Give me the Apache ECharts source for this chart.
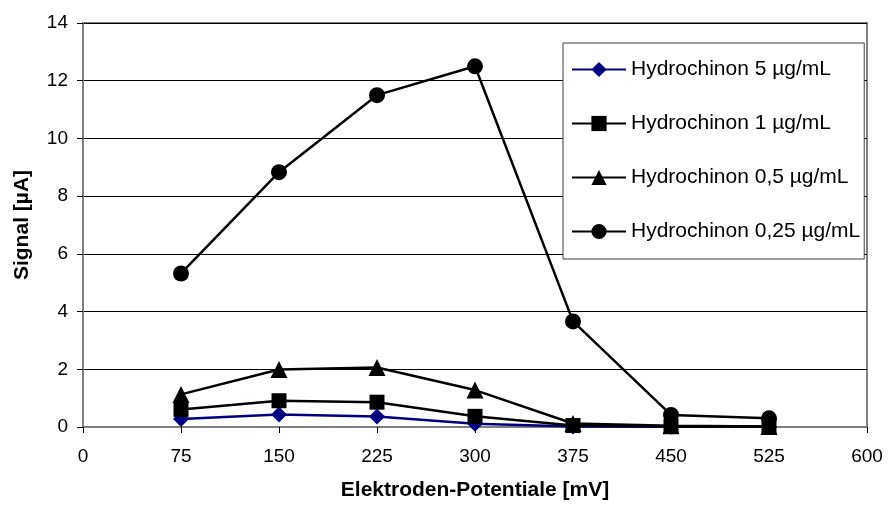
<!DOCTYPE html>
<html>
<head>
<meta charset="utf-8">
<script src="https://cdn.jsdelivr.net/npm/echarts@6/dist/echarts.min.js"></script>
<style>html,body{margin:0;padding:0;background:#fff}#c{width:888px;height:506px}</style>
</head>
<body>
<div id="c"></div>
<script>
const potentials = [75, 150, 225, 300, 375, 450, 525];
const seriesNames = ['Hydrochinon 5 µg/mL', 'Hydrochinon 1 µg/mL', 'Hydrochinon 0,5 µg/mL', 'Hydrochinon 0,25 µg/mL'];
const conc5 = [0.28, 0.43, 0.36, 0.11, 0.02, 0.01, 0.01];
const conc1 = [0.61, 0.91, 0.86, 0.37, 0.05, 0.02, 0.01];
const conc05 = [1.13, 1.99, 2.06, 1.28, 0.12, 0.04, 0.02];
const conc025 = [5.32, 8.83, 11.5, 12.5, 3.66, 0.42, 0.3];
const xTicks = [0, 75, 150, 225, 300, 375, 450, 525, 600];
const yTicks = [0, 2, 4, 6, 8, 10, 12, 14];

const font = 'Liberation Sans, Arial, sans-serif';
function mk(name, vals, symbol, color, size) {
  return {
    name: name, type: 'line', data: potentials.map((p, i) => [p, vals[i]]),
    symbol: symbol, symbolSize: size, showSymbol: true,
    lineStyle: { color: color, width: 2.5 }, itemStyle: { color: color },
    emphasis: { disabled: true }, animation: false
  };
}
const chart = echarts.init(document.getElementById('c'), null, { renderer: 'canvas' });
chart.setOption({
  animation: false,
  backgroundColor: '#fff',
  grid: { left: 83, right: 21, top: 23, bottom: 75, show: true, borderColor: '#808080', borderWidth: 2, backgroundColor: 'transparent' },
  xAxis: {
    type: 'value', min: xTicks[0], max: xTicks[xTicks.length - 1], interval: 75,
    name: 'Elektroden-Potentiale [mV]', nameLocation: 'middle', nameGap: 53,
    nameTextStyle: { fontFamily: font, fontSize: 21, fontWeight: 'bold', color: '#000' },
    axisLine: { show: true, lineStyle: { color: '#808080', width: 2 } },
    axisTick: { show: true, inside: false, length: 6, lineStyle: { color: '#000' } },
    axisLabel: { fontFamily: font, fontSize: 19, color: '#000', margin: 20 },
    splitLine: { show: false }
  },
  yAxis: {
    type: 'value', min: yTicks[0], max: yTicks[yTicks.length - 1], interval: 2,
    name: 'Signal [µA]', nameLocation: 'middle', nameGap: 50,
    nameTextStyle: { fontFamily: font, fontSize: 21, fontWeight: 'bold', color: '#000' },
    axisLine: { show: true, lineStyle: { color: '#808080', width: 2 } },
    axisTick: { show: true, inside: false, length: 6, lineStyle: { color: '#000' } },
    axisLabel: { fontFamily: font, fontSize: 19, color: '#000', margin: 15 },
    splitLine: { show: true, lineStyle: { color: '#000', width: 1 } }
  },
  legend: {
    orient: 'vertical', left: 563, top: 43,
    data: seriesNames,
    itemWidth: 54, itemHeight: 19, itemGap: 33,
    padding: [16, 4, 17, 8],
    backgroundColor: '#fff', borderColor: '#404040', borderWidth: 1,
    textStyle: { fontFamily: font, fontSize: 21, lineHeight: 19, color: '#000' },
    selectedMode: false
  },
  series: [
    mk(seriesNames[0], conc5, 'diamond', '#000080', 16),
    mk(seriesNames[1], conc1, 'rect', '#000', 15),
    mk(seriesNames[2], conc05, 'triangle', '#000', 17),
    mk(seriesNames[3], conc025, 'circle', '#000', 16)
  ]
});
</script>
</body>
</html>
